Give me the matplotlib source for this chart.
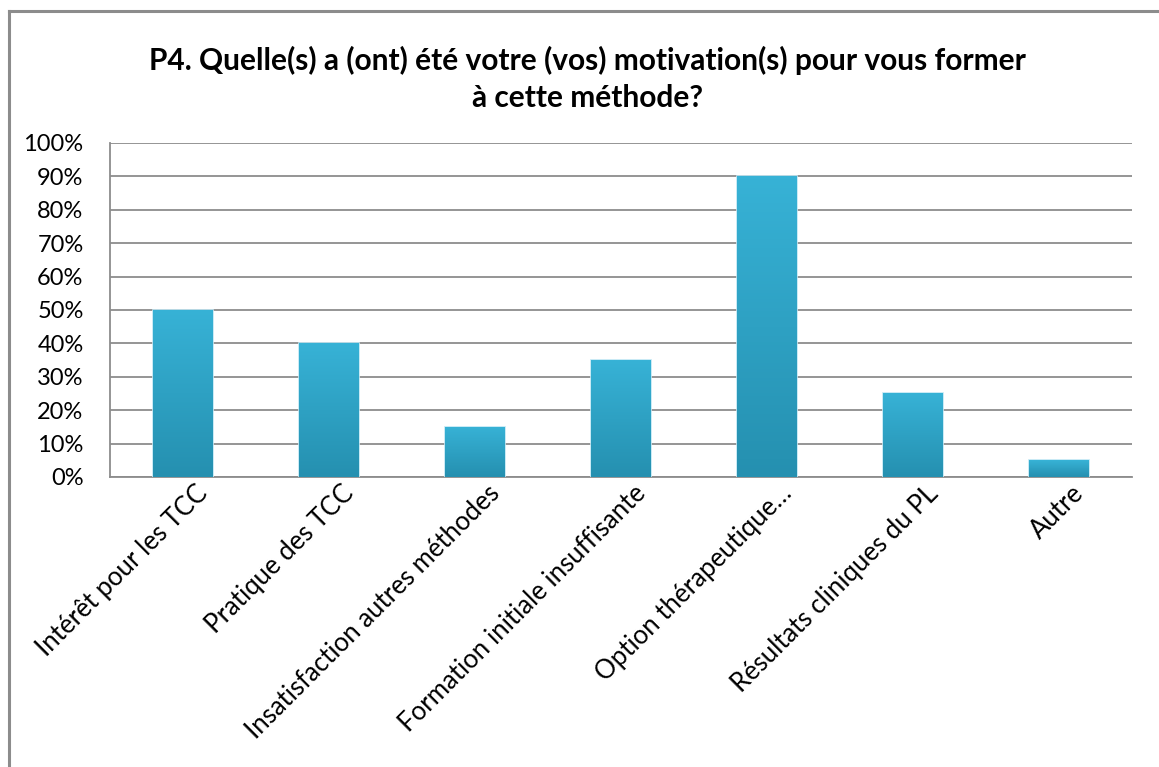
import numpy as np
import matplotlib.pyplot as plt
import matplotlib.transforms as mtransforms
from matplotlib.lines import Line2D
from matplotlib.colors import LinearSegmentedColormap

# données
categories = ["Intérêt pour les TCC", "Pratique des TCC", "Insatisfaction autres méthodes",
              "Formation initiale insuffisante", "Option thérapeutique…",
              "Résultats cliniques du PL", "Autre"]
valeurs = [50, 40, 15, 35, 90, 25, 5]
yticks = [0, 10, 20, 30, 40, 50, 60, 70, 80, 90, 100]
titre = "P4. Quelle(s) a (ont) été votre (vos) motivation(s) pour vous former\nà cette méthode?"

plt.rcParams['font.family'] = ['Lato', 'DejaVu Sans']

fig = plt.figure(figsize=(11.59, 7.67), dpi=100)
ax = fig.add_axes([0.0949, 0.3781, 0.8818, 0.4355])

x = np.arange(len(categories))
bars = ax.bar(x, valeurs, width=0.41, color='#2ba5c8', edgecolor='#bfe6f3',
              linewidth=1.2, zorder=3)

# dégradé vertical dans chaque barre
grad = np.linspace(0, 1, 100).reshape(-1, 1)
cmap = LinearSegmentedColormap.from_list('bleu', ['#2590b0', '#37b2d6'])
for b in bars:
    x0, y0 = b.get_x(), b.get_y()
    w, h = b.get_width(), b.get_height()
    im = ax.imshow(grad, extent=[x0, x0 + w, y0, y0 + h], origin='lower',
                   cmap=cmap, aspect='auto', zorder=3.5)
    im.set_clip_path(b)

ax.set_xlim(-0.5, len(categories) - 0.5)
ax.set_ylim(0, 100)
ax.set_yticks(yticks)
ax.set_yticklabels([f"{t}%" for t in yticks], fontsize=17)
ax.set_xticks(x)
ax.set_xticklabels(categories, rotation=45, ha='right', rotation_mode='anchor', fontsize=18.5)
ax.tick_params(axis='x', length=0, pad=5)
ax.tick_params(axis='y', length=0, pad=19)

# léger décalage des étiquettes vers la droite
decal = mtransforms.ScaledTranslation(0.12, 0.03, fig.dpi_scale_trans)
for lab in ax.get_xticklabels():
    lab.set_transform(lab.get_transform() + decal)

ax.yaxis.grid(True, color='#8c8c8c', linewidth=1.3, zorder=1)
ax.set_axisbelow(True)
for s in ['top', 'right']:
    ax.spines[s].set_visible(False)
for s in ['left', 'bottom']:
    ax.spines[s].set_color('#8c8c8c')
    ax.spines[s].set_linewidth(1.3)

fig.text(0.507, 0.897, titre, ha='center', va='center', fontsize=21.5,
         fontweight='bold', linespacing=1.4)

# cadre du graphique (haut et gauche)
fig.add_artist(Line2D([0.0075, 0.0075], [0, 0.986], color='#8c8c8c', linewidth=2.2))
fig.add_artist(Line2D([0.0075, 1], [0.986, 0.986], color='#8c8c8c', linewidth=2.2))

plt.savefig('out.png', dpi=100)
